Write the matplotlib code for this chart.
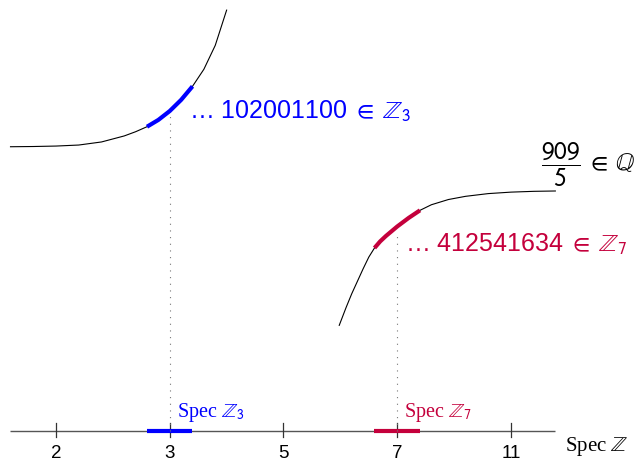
import numpy as np
import matplotlib
matplotlib.use("Agg")
import matplotlib.pyplot as plt

plt.rcParams['mathtext.fontset'] = 'stix'

#%% Data (x in units of prime spacing, y in same units above the axis)
primes = ['2', '3', '5', '7', '11']
prime_pos = [0, 1, 2, 3, 4]

# curve over p = 3
left_x = [-0.40, -0.20, 0.00, 0.20, 0.40, 0.60, 0.70, 0.80, 0.90, 1.00,
          1.10, 1.20, 1.30, 1.40, 1.50]
left_y = [2.499, 2.501, 2.505, 2.514, 2.541, 2.594, 2.631, 2.675, 2.735,
          2.813, 2.911, 3.030, 3.180, 3.390, 3.700]

# curve over p = 7
right_x = [2.49, 2.55, 2.60, 2.70, 2.75, 2.80, 2.85, 2.90, 3.00, 3.10,
           3.20, 3.30, 3.45, 3.60, 3.80, 4.00, 4.20, 4.39]
right_y = [0.929, 1.085, 1.207, 1.426, 1.529, 1.609, 1.667, 1.714, 1.798,
           1.873, 1.940, 1.989, 2.035, 2.063, 2.087, 2.100, 2.107, 2.110]

nbhd = 0.2          # half width of the highlighted neighbourhood
axis_ends = [-0.404, 4.387]

blue = '#0000ff'
red = '#c4003c'

#%% Plot
fig = plt.figure(figsize=(6.41, 4.61), dpi=100)
ax = fig.add_axes([0, 0, 1, 1])
ax.set_xlim(-0.4923, 5.1429)
ax.set_ylim(-0.2637, 3.789)
ax.axis('off')

# Spec Z
ax.plot(axis_ends, [0, 0], color='#555555', lw=1.0, solid_capstyle='butt')
for p, lab in zip(prime_pos, primes):
    ax.plot([p, p], [0.066, -0.05], color='#333333', lw=0.9)
    ax.text(p, -0.202, lab, ha='center', va='center', fontsize=13.5,
            family='Liberation Sans')

ax.text(4.475, -0.14, r'Spec $\mathbb{Z}$', ha='left', va='center',
        fontsize=15, family='Liberation Serif')

# neighbourhoods on the axis
ax.plot([1 - nbhd, 1 + nbhd], [0, 0], color=blue, lw=3, solid_capstyle='butt')
ax.plot([3 - nbhd, 3 + nbhd], [0, 0], color=red, lw=3, solid_capstyle='butt')
ax.text(1.065, 0.167, r'Spec $\mathbb{Z}_{\mathsf{3}}$', color=blue,
        ha='left', va='center', fontsize=14.5, family='Liberation Serif')
ax.text(3.055, 0.167, r'Spec $\mathbb{Z}_{\mathsf{7}}$', color=red,
        ha='left', va='center', fontsize=14.5, family='Liberation Serif')

# curves
lx = np.array(left_x); ly = np.array(left_y)
rx = np.array(right_x); ry = np.array(right_y)
ax.plot(lx, ly, color='black', lw=0.8)
ax.plot(rx, ry, color='black', lw=0.8)
m = (lx >= 1 - nbhd - 1e-6) & (lx <= 1 + nbhd + 1e-6)
ax.plot(lx[m], ly[m], color=blue, lw=3, solid_capstyle='butt')
m = (rx >= 3 - nbhd - 1e-6) & (rx <= 3 + nbhd + 1e-6)
ax.plot(rx[m], ry[m], color=red, lw=3, solid_capstyle='butt')

# fibres
ax.plot([1, 1], [0, 2.77], color='#777777', lw=0.8, linestyle=(0, (1, 5)))
ax.plot([3, 3], [0, 1.76], color='#777777', lw=0.8, linestyle=(0, (1, 5)))

# labels
ax.text(1.17, 2.749, r'… 102001100 $\in\;\mathbb{Z}_{\mathsf{3}}$', color=blue,
        ha='left', va='baseline', fontsize=18, family='Liberation Sans')
ax.text(3.065, 1.574, r'… 412541634 $\in\;\mathbb{Z}_{\mathsf{7}}$', color=red,
        ha='left', va='baseline', fontsize=18, family='Liberation Sans')
ax.text(5.099, 2.343, r'$\dfrac{\mathsf{909}}{\mathsf{5}}\;\in\;\mathbb{Q}$',
        ha='right', va='center', fontsize=18, family='Liberation Sans')

plt.savefig('out.png', dpi=100)
